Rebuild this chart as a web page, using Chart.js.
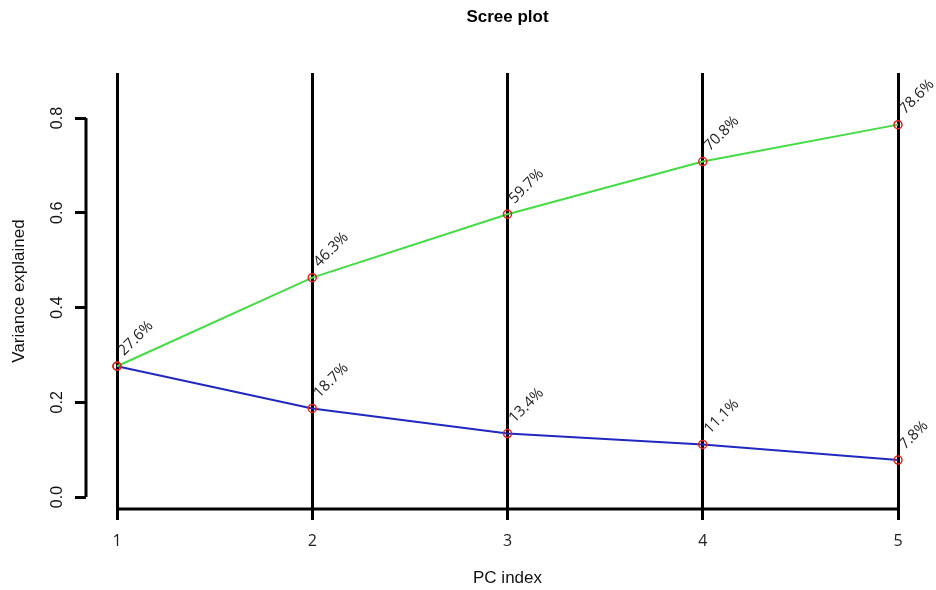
<!DOCTYPE html>
<html>
<head>
<meta charset="utf-8">
<script src="https://cdn.jsdelivr.net/npm/chart.js@4.4.1/dist/chart.umd.min.js"></script>
<style>
  html, body { margin: 0; padding: 0; background: #fff; }
  #wrap { width: 936px; height: 590px; }
</style>
</head>
<body>
<div id="wrap"><canvas id="scree"></canvas></div>
<script>
// scree plot data
var pcIndex = [1, 2, 3, 4, 5];
var varExplained = [0.276, 0.187, 0.134, 0.111, 0.078];
var cumExplained = [0.276, 0.463, 0.597, 0.708, 0.786];
var varLabels = ['27.6%', '18.7%', '13.4%', '11.1%', '7.8%'];
var cumLabels = ['27.6%', '46.3%', '59.7%', '70.8%', '78.6%'];
var yTicks = [0, 0.2, 0.4, 0.6, 0.8];
var yTickLabels = ['0.0', '0.2', '0.4', '0.6', '0.8'];

var toPoints = function(ys) {
  return pcIndex.map(function(x, i) { return { x: x, y: ys[i] }; });
};

// texts under the grid lines, like R draws them
var underlay = {
  id: 'underlay',
  beforeDraw: function(chart) {
    var ctx = chart.ctx, x = chart.scales.x, y = chart.scales.y;
    ctx.save();
    ctx.fillStyle = '#fff';
    ctx.fillRect(0, 0, chart.width, chart.height);

    var mid = (x.getPixelForValue(pcIndex[0]) + x.getPixelForValue(pcIndex[pcIndex.length - 1])) / 2;
    ctx.fillStyle = '#000';
    ctx.textAlign = 'center';
    ctx.textBaseline = 'middle';
    ctx.font = 'bold 17px "Liberation Sans", Arial, sans-serif';
    ctx.fillText('Scree plot', mid, 17);
    ctx.fillStyle = '#111';
    ctx.font = '17px "Liberation Sans", Arial, sans-serif';
    ctx.fillText('PC index', mid, 578);

    // y tick labels, rotated
    ctx.font = '16px "Liberation Sans", Arial, sans-serif';
    yTicks.forEach(function(v, i) {
      ctx.save();
      ctx.translate(58, y.getPixelForValue(v));
      ctx.rotate(-Math.PI / 2);
      ctx.fillText(yTickLabels[i], 0, 0);
      ctx.restore();
    });

    // percent labels at 45 degrees
    ctx.font = '15px "Open Sans", sans-serif';
    ctx.fillStyle = '#222';
    ctx.textAlign = 'left';
    ctx.textBaseline = 'alphabetic';
    var sets = [cumLabels, varLabels];
    sets.forEach(function(labels, d) {
      var meta = chart.getDatasetMeta(d);
      meta.data.forEach(function(pt, i) {
        if (d === 1 && i === 0) return;
        ctx.save();
        ctx.translate(pt.x + 7, pt.y - 10);
        ctx.rotate(-Math.PI / 4);
        ctx.fillText(labels[i], 0, 0);
        ctx.restore();
      });
    });
    ctx.restore();
  },
  afterDraw: function(chart) {
    var ctx = chart.ctx, x = chart.scales.x, y = chart.scales.y, area = chart.chartArea;
    ctx.save();
    ctx.strokeStyle = '#000';
    ctx.lineWidth = 3;
    ctx.beginPath();
    ctx.moveTo(x.getPixelForValue(pcIndex[0]), area.bottom);
    ctx.lineTo(x.getPixelForValue(pcIndex[pcIndex.length - 1]), area.bottom);
    ctx.moveTo(area.left, y.getPixelForValue(yTicks[0]));
    ctx.lineTo(area.left, y.getPixelForValue(yTicks[yTicks.length - 1]));
    ctx.stroke();
    ctx.restore();
  }
};

var chart = new Chart(document.getElementById('scree'), {
  type: 'line',
  data: {
    datasets: [
      {
        data: toPoints(cumExplained),
        borderColor: '#44dc44',
        borderWidth: 2,
        pointRadius: 4,
        pointBorderWidth: 1.5,
        pointBorderColor: '#e02020',
        pointBackgroundColor: 'rgba(0,0,0,0)',
        clip: false,
        tension: 0
      },
      {
        data: toPoints(varExplained),
        borderColor: '#2028c0',
        borderWidth: 2,
        pointRadius: 4,
        pointBorderWidth: 1.5,
        pointBorderColor: '#e02020',
        pointBackgroundColor: 'rgba(0,0,0,0)',
        clip: false,
        tension: 0
      }
    ]
  },
  options: {
    responsive: true,
    maintainAspectRatio: false,
    animation: false,
    layout: { padding: { top: 73, right: 38, left: 0, bottom: 0 } },
    plugins: {
      legend: { display: false },
      title: { display: false },
      tooltip: { enabled: false }
    },
    scales: {
      x: {
        type: 'linear',
        min: 0.8412,
        max: 5,
        afterBuildTicks: function(s) { s.ticks = pcIndex.map(function(v) { return { value: v }; }); },
        afterFit: function(s) { s.height = 81; },
        border: { display: false },
        grid: { color: '#000', lineWidth: 3, tickLength: 11, drawOnChartArea: true, drawTicks: true },
        ticks: {
          padding: 12,
          color: '#222',
          autoSkip: false,
          maxRotation: 0,
          font: { family: '"Open Sans", sans-serif', size: 16 }
        }
      },
      y: {
        min: -0.0253,
        max: 0.895,
        afterBuildTicks: function(s) { s.ticks = yTicks.map(function(v) { return { value: v }; }); },
        afterFit: function(s) { s.width = 86; },
        border: { display: false },
        grid: { color: '#000', lineWidth: 3, tickLength: 11, drawOnChartArea: false, drawTicks: true },
        ticks: { display: false },
        title: {
          display: true,
          text: 'Variance explained',
          color: '#111',
          font: { family: '"Liberation Sans", Arial, sans-serif', size: 17 },
          padding: { top: 9, bottom: 0 }
        }
      }
    }
  },
  plugins: [underlay]
});
</script>
</body>
</html>
